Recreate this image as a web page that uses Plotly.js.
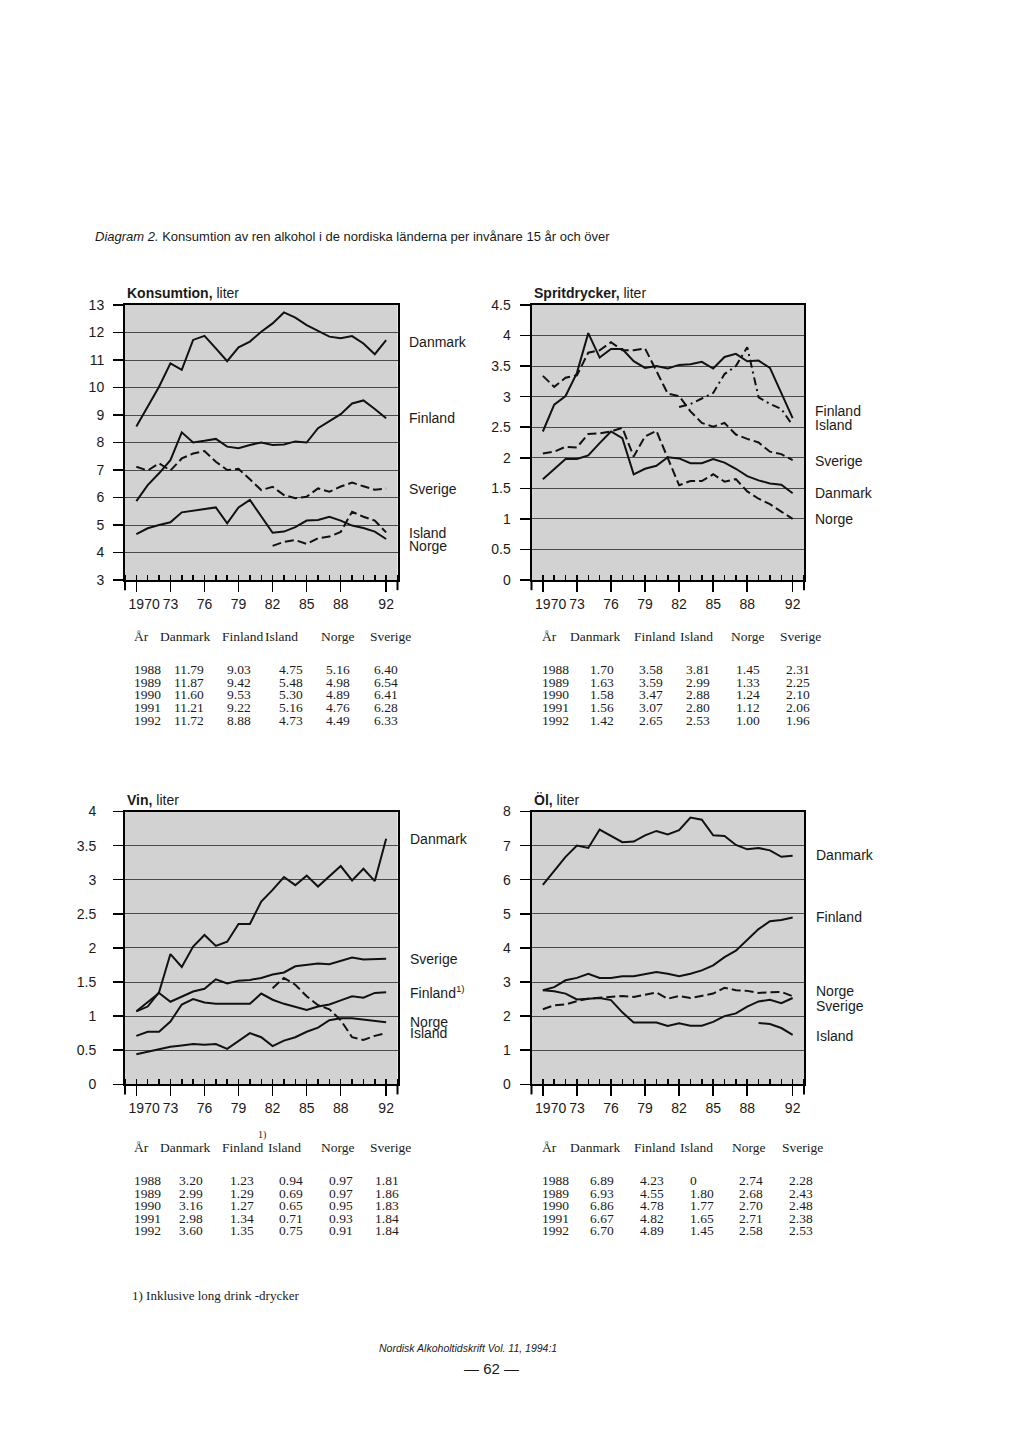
<!DOCTYPE html>
<html>
<head>
<meta charset="utf-8">
<script src="https://cdn.plot.ly/plotly-3.0.1.min.js"></script>
<style>
  html, body { margin: 0; padding: 0; background: #ffffff; }
  #chart { width: 1024px; height: 1441px; }
</style>
</head>
<body>
<div id="chart"></div>
<script>
// ---------------- DATA ----------------
const years = [1970,1971,1972,1973,1974,1975,1976,1977,1978,1979,1980,1981,1982,1983,1984,1985,1986,1987,1988,1989,1990,1991,1992];
const xTickVals = [1970,1973,1976,1979,1982,1985,1988,1992];
const xTickText = ['\u00a0\u00a0\u00a0\u00a01970','73','76','79','82','85','88','92'];

// Konsumtion, liter
const konsDanmark = [8.58,9.30,10.03,10.88,10.64,11.73,11.88,11.42,10.96,11.46,11.67,12.03,12.33,12.73,12.54,12.27,12.05,11.85,11.79,11.87,11.60,11.21,11.72];
const konsFinland = [5.87,6.45,6.88,7.36,8.37,8.00,8.06,8.13,7.85,7.79,7.91,8.00,7.91,7.93,8.04,8.00,8.52,8.76,9.03,9.42,9.53,9.22,8.88];
const konsSverige = [7.12,6.98,7.24,6.98,7.42,7.60,7.69,7.30,7.00,7.04,6.66,6.27,6.39,6.09,5.97,6.03,6.33,6.21,6.40,6.54,6.41,6.28,6.33];
const konsIsland  = [null,null,null,null,null,null,null,null,null,null,null,null,4.24,4.39,4.45,4.31,4.52,4.58,4.75,5.48,5.30,5.16,4.73];
const konsNorge   = [4.67,4.88,5.00,5.10,5.46,5.52,5.58,5.64,5.06,5.64,5.91,5.30,4.72,4.76,4.92,5.16,5.18,5.30,5.16,4.98,4.89,4.76,4.49];

// Spritdrycker, liter
const spritFinland = [2.43,2.87,3.01,3.39,4.04,3.64,3.78,3.78,3.58,3.47,3.50,3.46,3.52,3.53,3.57,3.46,3.65,3.70,3.58,3.59,3.47,3.07,2.65];
const spritIsland  = [null,null,null,null,null,null,null,null,null,null,null,null,2.83,2.88,2.97,3.06,3.37,3.50,3.81,2.99,2.88,2.80,2.53];
const spritSverige = [3.34,3.16,3.31,3.35,3.72,3.76,3.89,3.76,3.76,3.79,3.42,3.05,3.01,2.76,2.57,2.51,2.57,2.38,2.31,2.25,2.10,2.06,1.96];
const spritDanmark = [1.65,1.82,1.98,1.98,2.04,2.24,2.43,2.32,1.73,1.82,1.87,2.01,1.99,1.91,1.91,1.98,1.92,1.82,1.70,1.63,1.58,1.56,1.42];
const spritNorge   = [2.07,2.10,2.18,2.17,2.39,2.40,2.43,2.49,2.02,2.35,2.44,1.99,1.55,1.62,1.62,1.73,1.61,1.65,1.45,1.33,1.24,1.12,1.00];

// Vin, liter
const vinDanmark = [1.07,1.14,1.35,1.91,1.72,2.02,2.19,2.03,2.09,2.35,2.35,2.68,2.85,3.04,2.92,3.06,2.90,3.05,3.20,2.99,3.16,2.98,3.60];
const vinSverige = [1.07,1.20,1.34,1.21,1.29,1.36,1.40,1.54,1.48,1.52,1.53,1.56,1.61,1.64,1.73,1.75,1.77,1.76,1.81,1.86,1.83,1.84,1.84];
const vinFinland = [0.71,0.77,0.77,0.92,1.17,1.25,1.20,1.18,1.18,1.18,1.18,1.33,1.24,1.18,1.14,1.09,1.14,1.17,1.23,1.29,1.27,1.34,1.35];
const vinNorge   = [0.44,0.48,0.52,0.55,0.57,0.59,0.58,0.59,0.52,0.64,0.75,0.69,0.56,0.64,0.69,0.77,0.83,0.94,0.97,0.97,0.95,0.93,0.91];
const vinIsland  = [null,null,null,null,null,null,null,null,null,null,null,null,1.41,1.56,1.46,1.29,1.16,1.10,0.94,0.69,0.65,0.71,0.75];

// Öl, liter
const olDanmark = [5.85,6.27,6.67,7.00,6.93,7.47,7.28,7.10,7.12,7.30,7.43,7.33,7.45,7.82,7.76,7.30,7.28,7.02,6.89,6.93,6.86,6.67,6.70];
const olFinland = [2.76,2.85,3.05,3.12,3.24,3.12,3.12,3.17,3.17,3.23,3.29,3.24,3.17,3.24,3.34,3.49,3.73,3.92,4.23,4.55,4.78,4.82,4.89];
const olNorge   = [2.20,2.32,2.34,2.44,2.51,2.54,2.56,2.59,2.56,2.63,2.69,2.51,2.59,2.53,2.59,2.66,2.83,2.76,2.74,2.68,2.70,2.71,2.58];
const olSverige = [2.76,2.73,2.66,2.49,2.51,2.53,2.47,2.11,1.81,1.81,1.81,1.71,1.79,1.72,1.72,1.83,2.00,2.08,2.28,2.43,2.48,2.38,2.53];
const olIsland  = [null,null,null,null,null,null,null,null,null,null,null,null,null,null,null,null,null,null,null,1.80,1.77,1.65,1.45];

// Tables (1988-1992)
const tableYears = [1988,1989,1990,1991,1992];
const tableHeader = ['År','Danmark','Finland','Island','Norge','Sverige'];
const konsTable  = [[11.79,9.03,4.75,5.16,6.40],[11.87,9.42,5.48,4.98,6.54],[11.60,9.53,5.30,4.89,6.41],[11.21,9.22,5.16,4.76,6.28],[11.72,8.88,4.73,4.49,6.33]];
const spritTable = [[1.70,3.58,3.81,1.45,2.31],[1.63,3.59,2.99,1.33,2.25],[1.58,3.47,2.88,1.24,2.10],[1.56,3.07,2.80,1.12,2.06],[1.42,2.65,2.53,1.00,1.96]];
const vinTable   = [[3.20,1.23,0.94,0.97,1.81],[2.99,1.29,0.69,0.97,1.86],[3.16,1.27,0.65,0.95,1.83],[2.98,1.34,0.71,0.93,1.84],[3.60,1.35,0.75,0.91,1.84]];
const olTable    = [[6.89,4.23,0,2.74,2.28],[6.93,4.55,1.80,2.68,2.43],[6.86,4.78,1.77,2.70,2.48],[6.67,4.82,1.65,2.71,2.38],[6.70,4.89,1.45,2.58,2.53]];

// ---------------- LAYOUT HELPERS ----------------
const W = 1024, H = 1441;
const SANS = 'Liberation Sans, Arial, Helvetica, sans-serif';
const SERIF = 'Liberation Serif, Times New Roman, serif';
const INK = '#1a1a1a';
const px = v => v / W;
const py = v => 1 - v / H;

const panels = [
  { id: '', xdom: [125/W, 397.5/W], ydom: [py(580), py(305)], yrange: [3, 13], dtick: 1, standoff: 6,
    title: '<b>Konsumtion,</b> liter', titleY: 293,
    series: [[konsDanmark,'solid'],[konsFinland,'solid'],[konsSverige,'dash'],[konsIsland,'dash'],[konsNorge,'solid']],
    labels: [['Danmark',341.7],['Finland',418.3],['Sverige',489],['Island',533.3],['Norge',546]], labelX: 406.7 },
  { id: '2', xdom: [531.5/W, 804/W], ydom: [py(580), py(305)], yrange: [0, 4.5], dtick: 0.5, standoff: 6,
    title: '<b>Spritdrycker,</b> liter', titleY: 293,
    series: [[spritFinland,'solid'],[spritIsland,'dashdot'],[spritSverige,'dash'],[spritDanmark,'solid'],[spritNorge,'dash']],
    labels: [['Finland',410.7],['Island',425],['Sverige',461],['Danmark',493.3],['Norge',519.3]], labelX: 813.3 },
  { id: '3', xdom: [125/W, 397.5/W], ydom: [py(1084.3), py(811.5)], yrange: [0, 4], dtick: 0.5, standoff: 14,
    title: '<b>Vin,</b> liter', titleY: 800,
    series: [[vinDanmark,'solid'],[vinSverige,'solid'],[vinFinland,'solid'],[vinNorge,'solid'],[vinIsland,'dash']],
    labels: [['Danmark',839],['Sverige',959],['Finland<sup>1)</sup>',991.7],['Norge',1021.7],['Island',1033.3]], labelX: 407.7 },
  { id: '4', xdom: [531.5/W, 804/W], ydom: [py(1084.3), py(811.5)], yrange: [0, 8], dtick: 1, standoff: 6,
    title: '<b>Öl,</b> liter', titleY: 800,
    series: [[olDanmark,'solid'],[olFinland,'solid'],[olNorge,'dash'],[olSverige,'solid'],[olIsland,'solid']],
    labels: [['Danmark',855],['Finland',916.7],['Norge',990.7],['Sverige',1006],['Island',1036]], labelX: 814.3 }
];

const traces = [];
const layout = {
  width: W, height: H,
  margin: { l: 0, r: 0, t: 0, b: 0 },
  paper_bgcolor: '#ffffff',
  plot_bgcolor: '#d2d2d2',
  showlegend: false,
  font: { family: SANS, color: INK, size: 14 },
  annotations: [],
  shapes: []
};

panels.forEach(p => {
  const xa = 'x' + p.id, ya = 'y' + p.id;
  p.series.forEach(([vals, dash]) => {
    traces.push({
      type: 'scatter', mode: 'lines', x: years, y: vals,
      xaxis: xa, yaxis: ya, connectgaps: false, hoverinfo: 'skip',
      line: { color: '#111111', width: 2, dash: dash === 'dash' ? '9px,4px' : (dash === 'dashdot' ? '8px,4px,2px,4px' : 'solid') }
    });
  });
  layout['xaxis' + p.id] = {
    domain: p.xdom, range: [1969, 1993], anchor: ya,
    tickmode: 'array', tickvals: xTickVals, ticktext: xTickText, tickangle: 0,
    ticks: 'outside', ticklen: 10, tickwidth: 1.5, tickcolor: '#000',
    minor: { tickmode: 'linear', tick0: 1970, dtick: 1, ticks: 'inside', ticklen: 5, tickwidth: 1.5, tickcolor: '#000', showgrid: false },
    showline: true, linecolor: '#000', linewidth: 2, mirror: true,
    showgrid: false, zeroline: false, fixedrange: true,
    tickfont: { family: SANS, size: 14, color: INK }
  };
  layout['yaxis' + p.id] = {
    domain: p.ydom, range: p.yrange, anchor: xa,
    tickmode: 'linear', tick0: p.yrange[0], dtick: p.dtick,
    ticks: 'outside', ticklen: 10, tickwidth: 1.5, tickcolor: '#000',
    ticklabelstandoff: p.standoff,
    showline: true, linecolor: '#000', linewidth: 2, mirror: true,
    showgrid: true, gridcolor: '#4a4a4a', gridwidth: 1,
    zeroline: false, fixedrange: true,
    tickfont: { family: SANS, size: 14, color: INK }
  };
  // frame sides extending below the axis
  [0, 1].forEach(xv => {
    layout.shapes.push({ type: 'line', xref: xa + ' domain', yref: ya + ' domain',
      x0: xv, x1: xv, y0: -0.037, y1: 0, line: { color: '#000', width: 2 } });
  });
  // panel title
  layout.annotations.push({ xref: 'paper', yref: 'paper', x: p.xdom[0], y: py(p.titleY),
    xanchor: 'left', yanchor: 'middle', showarrow: false, text: p.title,
    font: { family: SANS, size: 14, color: INK } });
  // series names
  p.labels.forEach(([t, y]) => {
    layout.annotations.push({ xref: 'paper', yref: 'paper', x: px(p.labelX), y: py(y),
      xanchor: 'left', yanchor: 'middle', showarrow: false, text: t,
      font: { family: SANS, size: 14, color: INK } });
  });
});

// ---------------- TABLES ----------------
const tables = [
  { data: konsTable,  headY: 636.7, rowY: 669.3, step: 12.7, hx: [131.7,158.3,220,262.7,319.3,368.3], vx: [131.7,171.7,225,276.7,324,372.3] },
  { data: spritTable, headY: 636.7, rowY: 669.3, step: 12.7, hx: [540,567.7,631.7,678.3,729,777.7], vx: [540,588.3,636.7,684.3,734.3,784.3] },
  { data: vinTable,   headY: 1147.3, rowY: 1180.7, step: 12.5, hx: [131.7,158.3,220,265.7,319.3,368.3], vx: [131.7,176.7,228.3,276.7,326.7,373.3] },
  { data: olTable,    headY: 1147.3, rowY: 1180.7, step: 12.5, hx: [540,568.3,631.7,678.3,730,780], vx: [540,588.3,638.3,687.7,736.7,786.7] }
];
const tfont = { family: SERIF, size: 13.5, color: INK };
tables.forEach(t => {
  tableHeader.forEach((h, i) => {
    layout.annotations.push({ xref: 'paper', yref: 'paper', x: px(t.hx[i]), y: py(t.headY),
      xanchor: 'left', yanchor: 'middle', showarrow: false, text: h, font: tfont });
  });
  tableYears.forEach((yr, r) => {
    const y = t.rowY + r * t.step;
    layout.annotations.push({ xref: 'paper', yref: 'paper', x: px(t.vx[0]), y: py(y),
      xanchor: 'left', yanchor: 'middle', showarrow: false, text: String(yr), font: tfont });
    t.data[r].forEach((v, c) => {
      layout.annotations.push({ xref: 'paper', yref: 'paper', x: px(t.vx[c + 1]), y: py(y),
        xanchor: 'left', yanchor: 'middle', showarrow: false,
        text: v === 0 ? '0' : v.toFixed(2), font: tfont });
    });
  });
});

// footnote marker above Vin table header
layout.annotations.push({ xref: 'paper', yref: 'paper', x: px(261.7), y: py(1135),
  xanchor: 'center', yanchor: 'middle', showarrow: false, text: '1)',
  font: { family: SERIF, size: 10, color: INK } });

// ---------------- PAGE TEXT ----------------
layout.annotations.push({ xref: 'paper', yref: 'paper', x: px(93), y: py(236),
  xanchor: 'left', yanchor: 'middle', showarrow: false,
  text: '<i>Diagram 2.</i> Konsumtion av ren alkohol i de nordiska länderna per invånare 15 år och över',
  font: { family: SANS, size: 13, color: INK } });
layout.annotations.push({ xref: 'paper', yref: 'paper', x: px(130), y: py(1295),
  xanchor: 'left', yanchor: 'middle', showarrow: false,
  text: '1) Inklusive long drink -drycker', font: { family: SERIF, size: 13, color: INK } });
layout.annotations.push({ xref: 'paper', yref: 'paper', x: px(377), y: py(1348),
  xanchor: 'left', yanchor: 'middle', showarrow: false,
  text: '<i>Nordisk Alkoholtidskrift Vol. 11, 1994:1</i>', font: { family: SANS, size: 10.5, color: INK } });
layout.annotations.push({ xref: 'paper', yref: 'paper', x: px(491), y: py(1368),
  xanchor: 'center', yanchor: 'middle', showarrow: false,
  text: '— 62 —', font: { family: SANS, size: 15, color: INK } });

Plotly.newPlot('chart', traces, layout, { staticPlot: true, displayModeBar: false });
</script>
</body>
</html>
